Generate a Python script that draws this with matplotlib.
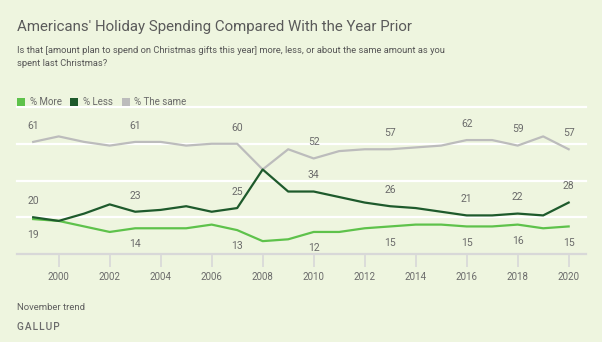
import matplotlib
matplotlib.use("Agg")
import matplotlib.pyplot as plt
from matplotlib.patches import Rectangle

years = list(range(1999, 2021))
more = [19, 18, 15, 12, 14, 14, 14, 16, 13, 7, 8, 12, 12, 14, 15, 16, 16, 15, 15, 16, 14, 15]
less = [20, 18, 22, 27, 23, 24, 26, 23, 25, 46, 34, 34, 31, 28, 26, 25, 23, 21, 21, 22, 21, 28]
same = [61, 64, 61, 59, 61, 61, 59, 60, 60, 46, 57, 52, 56, 57, 57, 58, 59, 62, 62, 59, 64, 57]
label_years = [1999, 2003, 2007, 2010, 2013, 2016, 2018, 2020]
x_ticks = list(range(2000, 2021, 2))

title = "Americans' Holiday Spending Compared With the Year Prior"
subtitle = ("Is that [amount plan to spend on Christmas gifts this year] more, less, or about the same amount as you\n"
            "spent last Christmas?")
series_names = ["% More", "% Less", "% The same"]

BG = "#eef5df"
C_MORE = "#5ec24b"
C_LESS = "#1e5a2c"
C_SAME = "#bcbcbc"
TXT = "#6b6b6b"

W, H = 602, 342
fig = plt.figure(figsize=(W / 100, H / 100), dpi=100)
fig.patch.set_facecolor(BG)
plt.rcParams['font.family'] = ['Roboto', 'DejaVu Sans']

def fx(px):
    return px / W

def fy(py):
    return 1 - py / H

ax = fig.add_axes([fx(17), fy(254), fx(586) - fx(17), fy(107) - fy(254)])
ax.set_facecolor(BG)
ax.set_xlim(1998.365, 2020.68)
ax.set_ylim(0, 80)
for s in ax.spines.values():
    s.set_visible(False)
ax.set_yticks([])
for v in [20, 40, 60, 80]:
    ax.axhline(v, color="white", lw=1.6, zorder=1, clip_on=False)
ax.axhline(0, color="#d8d8d8", lw=1.6, zorder=1, clip_on=False)

ax.plot(years, same, color=C_SAME, lw=1.6, zorder=3)
ax.plot(years, more, color=C_MORE, lw=1.6, zorder=4)
ax.plot(years, less, color=C_LESS, lw=1.6, zorder=5)

ax.set_xticks(x_ticks)
ax.set_xticklabels([str(y) for y in x_ticks])
ax.tick_params(axis="x", length=9, width=1.2, color="#d8d8d8", labelsize=7, labelcolor=TXT, pad=4)

for y in label_years:
    i = years.index(y)
    ax.annotate(str(same[i]), (y, same[i]), xytext=(0, 8), textcoords="offset points",
                ha="center", va="bottom", fontsize=7.5, color=TXT)
    ax.annotate(str(less[i]), (y, less[i]), xytext=(0, 8), textcoords="offset points",
                ha="center", va="bottom", fontsize=7.5, color=TXT)
    ax.annotate(str(more[i]), (y, more[i]), xytext=(0, -8), textcoords="offset points",
                ha="center", va="top", fontsize=7.5, color=TXT)

fig.text(fx(17), fy(27), title, ha="left", va="center", fontsize=10.85, color="#5a5a5a")
fig.text(fx(17), fy(46), subtitle, ha="left", va="top", fontsize=6.75, color="#555555", linespacing=1.5)

leg = [(17, 30, C_MORE, series_names[0]), (70, 83, C_LESS, series_names[1]), (121.5, 134, C_SAME, series_names[2])]
for sx, tx, c, name in leg:
    fig.patches.append(Rectangle((fx(sx), fy(106)), fx(8), 8 / H, transform=fig.transFigure,
                                 facecolor=c, edgecolor="none"))
    fig.text(fx(tx), fy(102), name, ha="left", va="center", fontsize=7, color=TXT)

fig.text(fx(17), fy(307), "November trend", ha="left", va="center", fontsize=6.8, color="#5f5f5f")
fig.text(fx(17), fy(327), "G A L L U P".replace(" ", "\u200a"), ha="left", va="center", fontsize=7.3,
         color="#6b6b6b", fontweight="medium")

fig.savefig("out.png", dpi=100, facecolor=BG)
